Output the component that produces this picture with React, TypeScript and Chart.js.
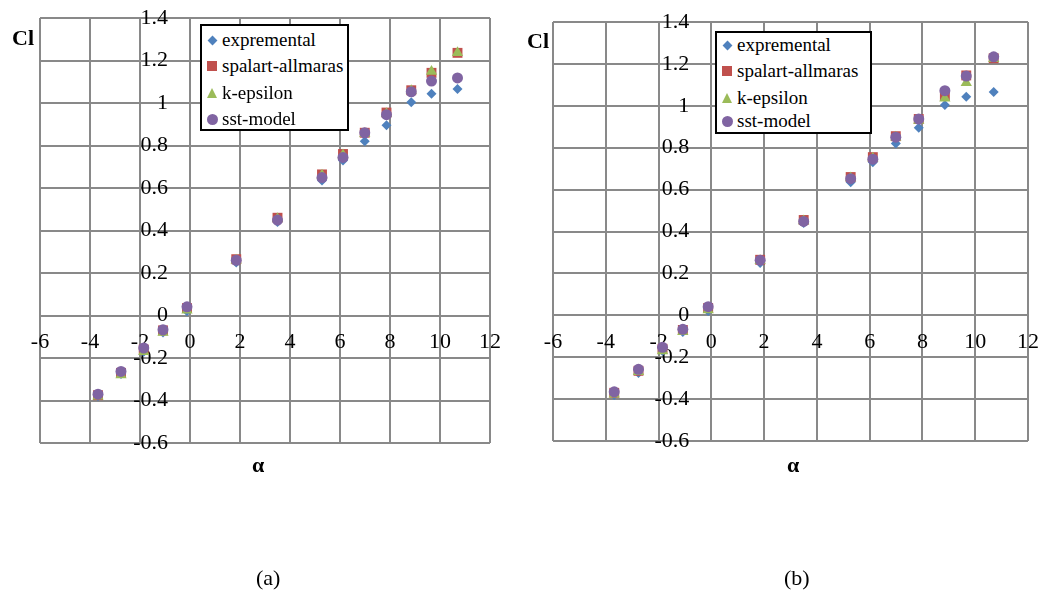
import React, { useEffect, useRef } from "react";
import { Chart, registerables } from "chart.js";

Chart.register(...registerables);

// ---------- data ----------
const seriesNames = ["expremental", "spalart-allmaras", "k-epsilon", "sst-model"];
const seriesColors = ["#4F81BD", "#C0504D", "#9BBB59", "#8064A2"];

const alpha = [-3.68, -2.76, -1.85, -1.08, -0.12, 1.85, 3.5, 5.28, 6.12, 6.99, 7.86, 8.85, 9.66, 10.7];

const expCl = [-0.38, -0.275, -0.17, -0.08, 0.02, 0.25, 0.44, 0.635, 0.73, 0.82, 0.895, 1.004, 1.043, 1.066];

const spalartA = [-0.375, -0.27, -0.16, -0.07, 0.035, 0.265, 0.46, 0.664, 0.76, 0.86, 0.955, 1.06, 1.142, 1.236];
const kEpsilonA = [-0.38, -0.28, -0.17, -0.08, 0.025, 0.26, 0.455, 0.66, 0.755, 0.855, 0.95, 1.058, 1.148, 1.236];
const sstA = [-0.37, -0.263, -0.153, -0.067, 0.041, 0.26, 0.449, 0.649, 0.744, 0.86, 0.945, 1.053, 1.103, 1.118];

const spalartB = [-0.37, -0.265, -0.16, -0.07, 0.035, 0.265, 0.455, 0.66, 0.755, 0.855, 0.937, 1.047, 1.145, 1.227];
const kEpsilonB = [-0.377, -0.27, -0.17, -0.078, 0.025, 0.26, 0.45, 0.655, 0.75, 0.85, 0.93, 1.036, 1.11, 1.225];
const sstB = [-0.365, -0.258, -0.153, -0.067, 0.041, 0.263, 0.448, 0.652, 0.745, 0.85, 0.937, 1.072, 1.142, 1.234];

const xTicks = [-6, -4, -2, 0, 2, 4, 6, 8, 10, 12];
const yTicks = [-0.6, -0.4, -0.2, 0, 0.2, 0.4, 0.6, 0.8, 1, 1.2, 1.4];

const FONT = "'Liberation Serif', 'Times New Roman', serif";

const pointStyles = ["rectRot", "rect", "triangle", "circle"];
const pointRadii = [5, 7, 6.5, 5.5];
const drawOrder = [4, 3, 2, 1];

type Pad = { left: number; right: number; top: number; bottom: number };

function ScatterChart(props: { left: number; width: number; height: number; pad: Pad; series: number[][] }) {
  const ref = useRef<HTMLCanvasElement | null>(null);
  useEffect(() => {
    if (!ref.current) return;
    const datasets = props.series.map((vals, i) => ({
      label: seriesNames[i],
      data: alpha.map((a, j) => ({ x: a, y: vals[j] })),
      backgroundColor: seriesColors[i],
      borderColor: seriesColors[i],
      borderWidth: 0,
      pointStyle: pointStyles[i] as any,
      pointRadius: pointRadii[i],
      pointHoverRadius: pointRadii[i],
      order: drawOrder[i],
    }));
    const fmt = (v: any) => String(Number(Number(v).toFixed(1)));
    // y labels sit against the axis line; trailing spaces give the gap seen in the reference
    const fmtY = (v: any) => fmt(v) + "    ";
    const chart = new Chart(ref.current, {
      type: "scatter",
      data: { datasets },
      options: {
        animation: false,
        responsive: false,
        layout: { padding: props.pad },
        plugins: { legend: { display: false }, tooltip: { enabled: false } },
        scales: {
          x: {
            type: "linear",
            min: -6,
            max: 12,
            position: { y: 0 } as any,
            afterBuildTicks: (s: any) => {
              s.ticks = xTicks.map((v) => ({ value: v }));
            },
            ticks: { font: { family: FONT, size: 22 }, color: "#000", padding: 14, callback: fmt, maxRotation: 0, autoSkip: false },
            grid: { color: "#898989", lineWidth: 2, drawTicks: false },
            border: { display: false },
          },
          y: {
            type: "linear",
            min: -0.6,
            max: 1.4,
            position: { x: 0 } as any,
            afterBuildTicks: (s: any) => {
              s.ticks = yTicks.map((v) => ({ value: v }));
            },
            ticks: { font: { family: FONT, size: 22 }, color: "#000", padding: 0, callback: fmtY, autoSkip: false },
            grid: { color: "#898989", lineWidth: 2, drawTicks: false },
            border: { display: false },
          },
        },
      },
    });
    return () => chart.destroy();
  }, []);
  return (
    <canvas
      ref={ref}
      width={props.width}
      height={props.height}
      style={{ position: "absolute", left: props.left, top: 0, width: props.width, height: props.height, display: "block" }}
    />
  );
}

function Marker({ i }: { i: number }) {
  const c = seriesColors[i];
  if (i === 0)
    return <div style={{ width: 7, height: 7, background: c, transform: "rotate(45deg)" }} />;
  if (i === 1) return <div style={{ width: 10, height: 10, background: c }} />;
  if (i === 2)
    return (
      <div
        style={{
          width: 0,
          height: 0,
          borderLeft: "5.5px solid transparent",
          borderRight: "5.5px solid transparent",
          borderBottom: `10px solid ${c}`,
        }}
      />
    );
  return <div style={{ width: 11, height: 11, borderRadius: "50%", background: c }} />;
}

function Legend(props: { left: number; top: number; width: number; height: number; rows: number[] }) {
  return (
    <div
      style={{
        position: "absolute",
        left: props.left,
        top: props.top,
        width: props.width,
        height: props.height,
        border: "2px solid #000",
        boxSizing: "border-box",
        background: "#fff",
      }}
    >
      {seriesNames.map((n, i) => (
        <div
          key={n}
          style={{
            position: "absolute",
            left: 0,
            top: props.rows[i] - 13,
            height: 26,
            display: "flex",
            alignItems: "center",
            fontFamily: FONT,
            fontSize: 19,
            color: "#000",
            whiteSpace: "nowrap",
          }}
        >
          <div style={{ width: 20, display: "flex", justifyContent: "center", alignItems: "center" }}>
            <Marker i={i} />
          </div>
          <span>{n}</span>
        </div>
      ))}
    </div>
  );
}

const labelStyle: React.CSSProperties = {
  position: "absolute",
  fontFamily: FONT,
  color: "#000",
  whiteSpace: "nowrap",
  lineHeight: 1,
};

export default function App() {
  return (
    <div style={{ position: "absolute", left: 0, top: 0, width: 1045, height: 595, background: "#fff", overflow: "hidden" }}>
      <ScatterChart
        left={0}
        width={520}
        height={500}
        pad={{ left: 40, right: 30, top: 18, bottom: 57 }}
        series={[expCl, spalartA, kEpsilonA, sstA]}
      />
      <ScatterChart
        left={520}
        width={545}
        height={500}
        pad={{ left: 33, right: 37, top: 22, bottom: 59 }}
        series={[expCl, spalartB, kEpsilonB, sstB]}
      />
      <Legend left={200} top={24} width={149} height={107} rows={[14, 40, 67, 93]} />
      <Legend left={715} top={31} width={157} height={103} rows={[12, 38, 65, 88]} />

      <div style={{ ...labelStyle, left: 12, top: 27, fontSize: 22, fontWeight: "bold" }}>Cl</div>
      <div style={{ ...labelStyle, left: 527, top: 30, fontSize: 22, fontWeight: "bold" }}>Cl</div>
      <div style={{ ...labelStyle, left: 252, top: 454, fontSize: 22, fontWeight: "bold" }}>α</div>
      <div style={{ ...labelStyle, left: 787, top: 454, fontSize: 22, fontWeight: "bold" }}>α</div>
      <div style={{ ...labelStyle, left: 256, top: 567, fontSize: 22 }}>(a)</div>
      <div style={{ ...labelStyle, left: 784, top: 567, fontSize: 22 }}>(b)</div>
    </div>
  );
}
